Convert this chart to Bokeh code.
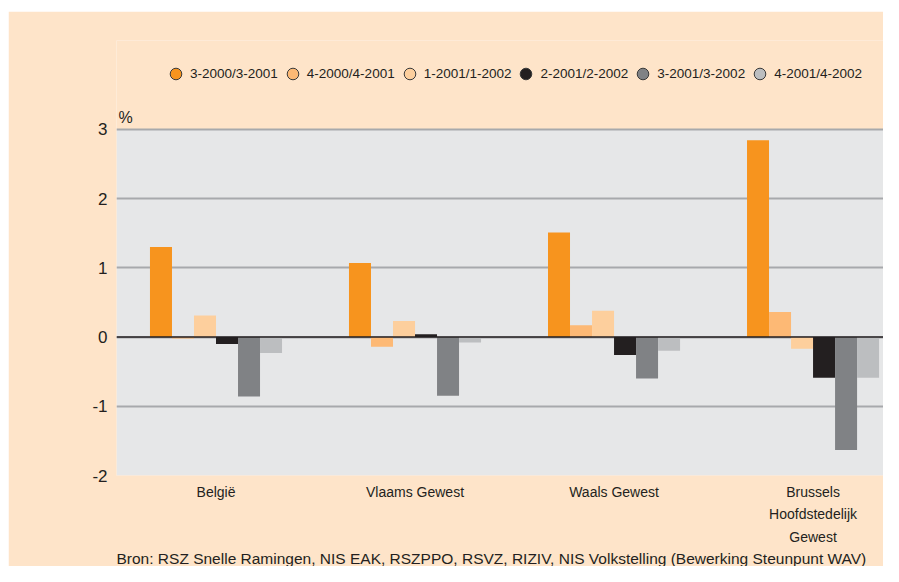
from bokeh.plotting import figure
from bokeh.models import (Range1d, FixedTicker, Span, Legend, LegendItem, Title, Label,
                          BoxAnnotation, ColumnDataSource)
from bokeh.embed import file_html
from bokeh.resources import INLINE

# ---- data ----
categories = ["België", "Vlaams Gewest", "Waals Gewest", "Brussels\nHoofdstedelijk\nGewest"]
series = ["3-2000/3-2001", "4-2000/4-2001", "1-2001/1-2002",
          "2-2001/2-2002", "3-2001/3-2002", "4-2001/4-2002"]
v_3_2000 = [1.30, 1.07, 1.51, 2.84]
v_4_2000 = [-0.02, -0.14, 0.17, 0.36]
v_1_2001 = [0.31, 0.23, 0.38, -0.17]
v_2_2001 = [-0.10, 0.04, -0.26, -0.59]
v_3_2001 = [-0.86, -0.85, -0.60, -1.63]
v_4_2001 = [-0.23, -0.08, -0.20, -0.59]
y_ticks = [-2, -1, 0, 1, 2, 3]
unit_label = "%"
source_text = "Bron: RSZ Snelle Ramingen, NIS EAK, RSZPPO, RSVZ, RIZIV, NIS Volkstelling (Bewerking Steunpunt WAV)"

values = [v_3_2000, v_4_2000, v_1_2001, v_2_2001, v_3_2001, v_4_2001]
colors = ["#F7941E", "#FDB975", "#FDCF9D", "#231F20", "#808285", "#BCBEC0"]

BG = "#FEE4C9"
TXT = "#231F20"
FONT = "Liberation Sans"

# the frame extends above the value axis to host the legend and unit label
p = figure(width=875, height=555, output_backend="svg", toolbar_location=None,
           x_range=Range1d(0, 3.854), y_range=Range1d(-2, 4.282),
           min_border_left=108, min_border_right=0, min_border_top=29, min_border_bottom=90)
p.margin = (11, 0, 0, 8)
p.background_fill_color = BG
p.border_fill_color = BG
p.outline_line_color = None

# grey plotting area between the lowest and highest tick
p.add_layout(BoxAnnotation(bottom=y_ticks[0], top=y_ticks[-1], fill_color="#E6E7E8",
                           fill_alpha=1, line_color=None, level="image"))

bw = 0.1106
n = len(values)
legend_items = []
for k, vals in enumerate(values):
    xs = [i + 0.5 + (k - (n - 1) / 2) * bw for i in range(len(categories))]
    src = ColumnDataSource(data=dict(x=xs, top=vals))
    p.vbar(x="x", top="top", bottom=0, width=bw, source=src,
           fill_color=colors[k], line_color=None)
    # zero-size circles: invisible in the plot, but give the legend its round swatches
    r = p.scatter(x="x", y="top", source=src, size=0, marker="circle",
                  fill_color=colors[k], line_color="#3A3A3A", line_width=1)
    legend_items.append(LegendItem(label=series[k], renderers=[r]))

p.add_layout(Span(location=0, dimension="width", line_color=TXT, line_width=1.5))

# axes
p.yaxis.ticker = FixedTicker(ticks=y_ticks)
p.yaxis.major_label_overrides = {t: str(t) for t in y_ticks}
p.yaxis.axis_line_color = None
p.yaxis.major_tick_line_color = None
p.yaxis.minor_tick_line_color = None
p.yaxis.major_tick_out = 0
p.yaxis.major_tick_in = 0
p.yaxis.minor_tick_out = 0
p.yaxis.major_label_standoff = 9
p.yaxis.major_label_text_font = FONT
p.yaxis.major_label_text_font_size = "17px"
p.yaxis.major_label_text_color = TXT

p.xaxis.ticker = FixedTicker(ticks=[i + 0.5 for i in range(len(categories))])
p.xaxis.major_label_overrides = {i + 0.5: c for i, c in enumerate(categories)}
p.xaxis.axis_line_color = None
p.xaxis.major_tick_line_color = None
p.xaxis.minor_tick_line_color = None
p.xaxis.major_tick_out = 0
p.xaxis.major_tick_in = 0
p.xaxis.minor_tick_out = 0
p.xaxis.axis_label_standoff = 0
p.xaxis.major_label_standoff = 8
p.xaxis.major_label_text_font = FONT
p.xaxis.major_label_text_font_size = "14px"
p.xaxis.major_label_text_line_height = 1.42
p.xaxis.major_label_text_color = TXT

p.xgrid.grid_line_color = None
p.ygrid.ticker = FixedTicker(ticks=y_ticks)
p.ygrid.grid_line_color = "#A7A9AC"
p.ygrid.grid_line_width = 2

# "%" unit label above the top-left of the grey area
p.add_layout(Label(x=0, y=y_ticks[-1], text=unit_label, x_offset=2, y_offset=3,
                   text_baseline="bottom", text_font=FONT, text_font_size="16px",
                   text_color=TXT))

legend = Legend(items=legend_items, orientation="horizontal", location=(45, 387),
                glyph_width=29, glyph_height=29, label_standoff=0, spacing=0,
                padding=0, margin=0, background_fill_alpha=0, border_line_color=None,
                label_text_font=FONT, label_text_font_size="13.5px", label_text_color=TXT)
p.add_layout(legend)

p.add_layout(Title(text=source_text, align="left", standoff=0, text_font=FONT,
                   text_font_size="15.5px", text_font_style="normal", text_color=TXT), "below")

open("out.html", "w").write(file_html(p, INLINE))
